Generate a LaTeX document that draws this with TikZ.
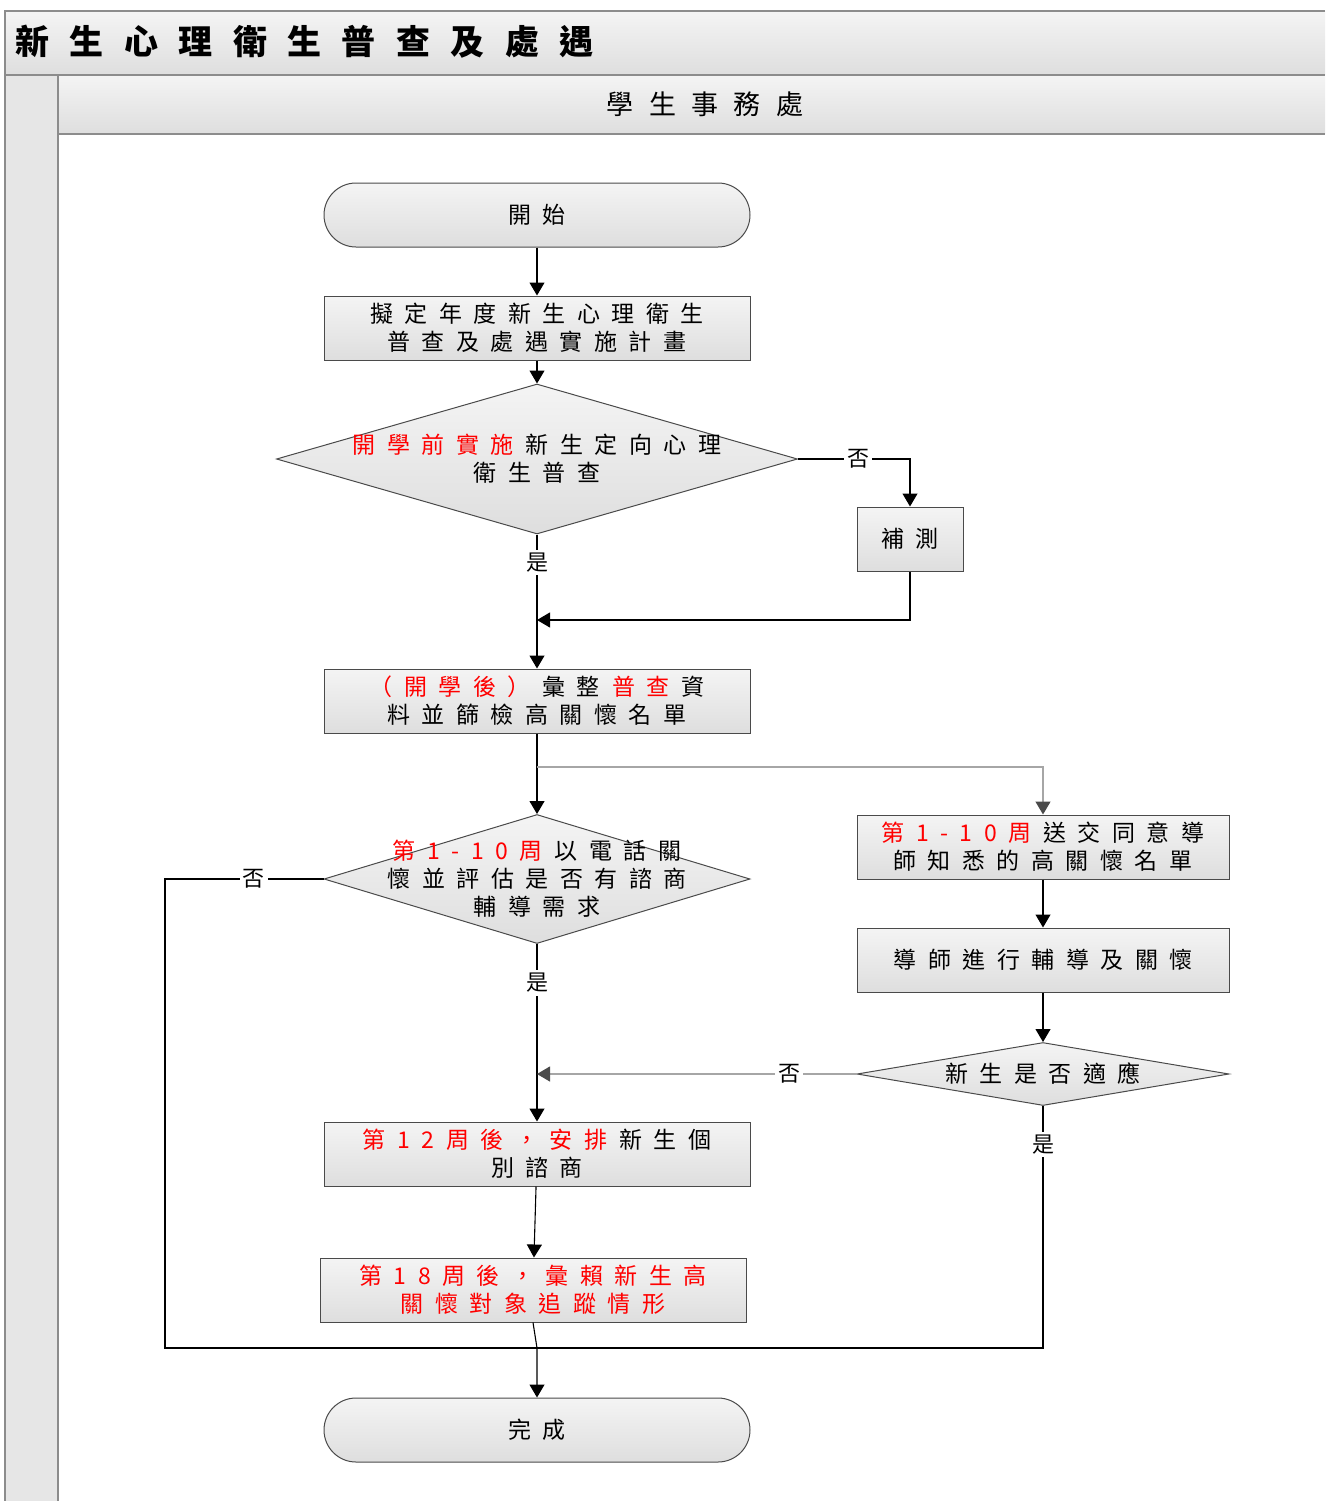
\documentclass[tikz,border=0pt]{standalone}
\usepackage{fontspec}
\usetikzlibrary{arrows.meta,shapes.geometric}
\setmainfont{Noto Sans CJK TC}
\newfontfamily\bodyf[LetterSpace=50]{Noto Sans CJK TC}
\newfontfamily\titlef[LetterSpace=60]{Noto Sans CJK TC}
\newfontfamily\headf[LetterSpace=57]{Noto Sans CJK TC}
\newfontfamily\plainf{Noto Sans CJK TC}
\newcommand{\gap}{\hspace{12pt}}
\definecolor{ftop}{HTML}{F4F4F4}
\definecolor{fbot}{HTML}{DEDEDE}
\definecolor{boxc}{HTML}{4A4A4A}
\definecolor{framec}{HTML}{8C8C8C}
\definecolor{grayln}{HTML}{A6A6A6}
\definecolor{colfill}{HTML}{E6E6E6}
\begin{document}
\begin{tikzpicture}[x=1pt,y=-1pt,
  box/.style={draw=boxc, line width=1pt, top color=ftop, bottom color=fbot,
    minimum width=426pt, minimum height=64pt, inner sep=0pt, align=center,
    font=\bodyf\fontsize{23}{28}\selectfont},
  term/.style={box, rounded corners=32pt},
  dia/.style={shape=diamond, draw=boxc, line width=1pt, top color=ftop, bottom color=fbot, inner sep=0pt},
  dtext/.style={align=center, font=\bodyf\fontsize{23}{28}\selectfont},
  lbl/.style={fill=white, inner sep=3pt, font=\plainf\fontsize{22}{24}\selectfont},
  conn/.style={draw=black, line width=1.1pt},
  arr/.style={conn, -{Triangle[length=13pt,width=15pt]}},
  garr/.style={draw=grayln, line width=1.3pt, -{Triangle[length=13pt,width=15pt,fill=boxc,color=boxc]}}
]
\useasboundingbox (0,0) rectangle (1325,1501);
% frame
\path[top color=ftop, bottom color=fbot] (5,11) rectangle (1325,75);
\path[fill=colfill] (5,75) rectangle (58,1501);
\path[top color=ftop, bottom color=fbot] (58,75) rectangle (1325,134);
\draw[framec, line width=1.2pt] (1325,11) -- (5,11) -- (5,1501);
\draw[framec, line width=1.2pt] (5,75) -- (1325,75);
\draw[framec, line width=1.2pt] (58,75) -- (58,1501);
\draw[framec, line width=1.2pt] (58,134) -- (1325,134);
\node[anchor=west, font=\titlef\bfseries\fontsize{34}{38}\selectfont] (title) at (12,42) {新生心理衛生普查及處遇};
\node[font=\headf\fontsize{27}{30}\selectfont] (lane) at (705,104) {學生事務處};

% nodes
\node[term] (start) at (537,215) {開始};
\node[box] (plan) at (537,328) {擬定年度新生心理衛生\\普查及處遇實施計畫};
\node[dia, minimum width=521pt, minimum height=150pt] (d1) at (537,459) {};
\node[dtext] (d1t) at (537,459) {{\color{red}開學前實施}\gap 新生定向心理\\衛生普查};
\node[box, minimum width=106pt] (retest) at (910,539) {補測};
\node[box] (collect) at (537,701) {{\color{red}（開學後）}\gap 彙整{\color{red}\gap 普查}\gap 資\\料並篩檢高關懷名單};
\node[dia, minimum width=426pt, minimum height=129pt] (d2) at (537,879) {};
\node[dtext] (d2t) at (537,879) {{\color{red}第1-10周}\gap 以電話關\\懷並評估是否有諮商\\輔導需求};
\node[box, minimum width=372pt] (send) at (1043,847) {{\color{red}第1-10周}\gap 送交同意導\\師知悉的高關懷名單};
\node[box, minimum width=372pt] (tutor) at (1043,960) {導師進行輔導及關懷};
\node[dia, minimum width=372pt, minimum height=63pt] (d3) at (1043,1074) {};
\node[dtext] (d3t) at (1043,1074) {新生是否適應};
\node[box] (couns) at (537,1154) {{\color{red}第12周後，安排}\gap 新生個\\別諮商};
\node[box, text=red] (follow) at (533,1290) {第18周後，彙賴新生高\\關懷對象追蹤情形};
\node[term] (fin) at (537,1430) {完成};

% coordinates
\coordinate (m1) at (537,620);
\coordinate (br) at (537,767);
\coordinate (m2) at (537,1074);
\coordinate (m3) at (537,1348);
\coordinate (lc) at (165,1348);
\coordinate (rc) at (1043,1348);

% connectors
\draw[arr] (start) -- (plan);
\draw[arr] (plan) -- (d1);
\draw[arr] (d1.east) -| node[lbl, pos=0.27] {否} (retest.north);
\draw[arr] (d1.south) -- node[lbl, pos=0.21] {是} (collect.north);
\draw[arr] (retest.south) |- (m1);
\draw[arr] (collect) -- (d2);
\draw[garr] (br) -| (send.north);
\draw[arr] (send) -- (tutor);
\draw[arr] (tutor) -- (d3);
\draw[arr] (d2.south) -- node[lbl, pos=0.22] {是} (couns.north);
\draw[garr] (d3.west) -- node[lbl, pos=0.21] {否} (m2);
\draw[arr] (couns) -- (follow);
\draw[arr] (follow.south) -- (m3) -- (fin.north);
\draw[conn] (d2.west) -| node[lbl, pos=0.22] {否} (lc) -- (m3);
\draw[conn] (d3.south) -- node[lbl, pos=0.16] {是} (rc) -- (m3);
\end{tikzpicture}
\end{document}
